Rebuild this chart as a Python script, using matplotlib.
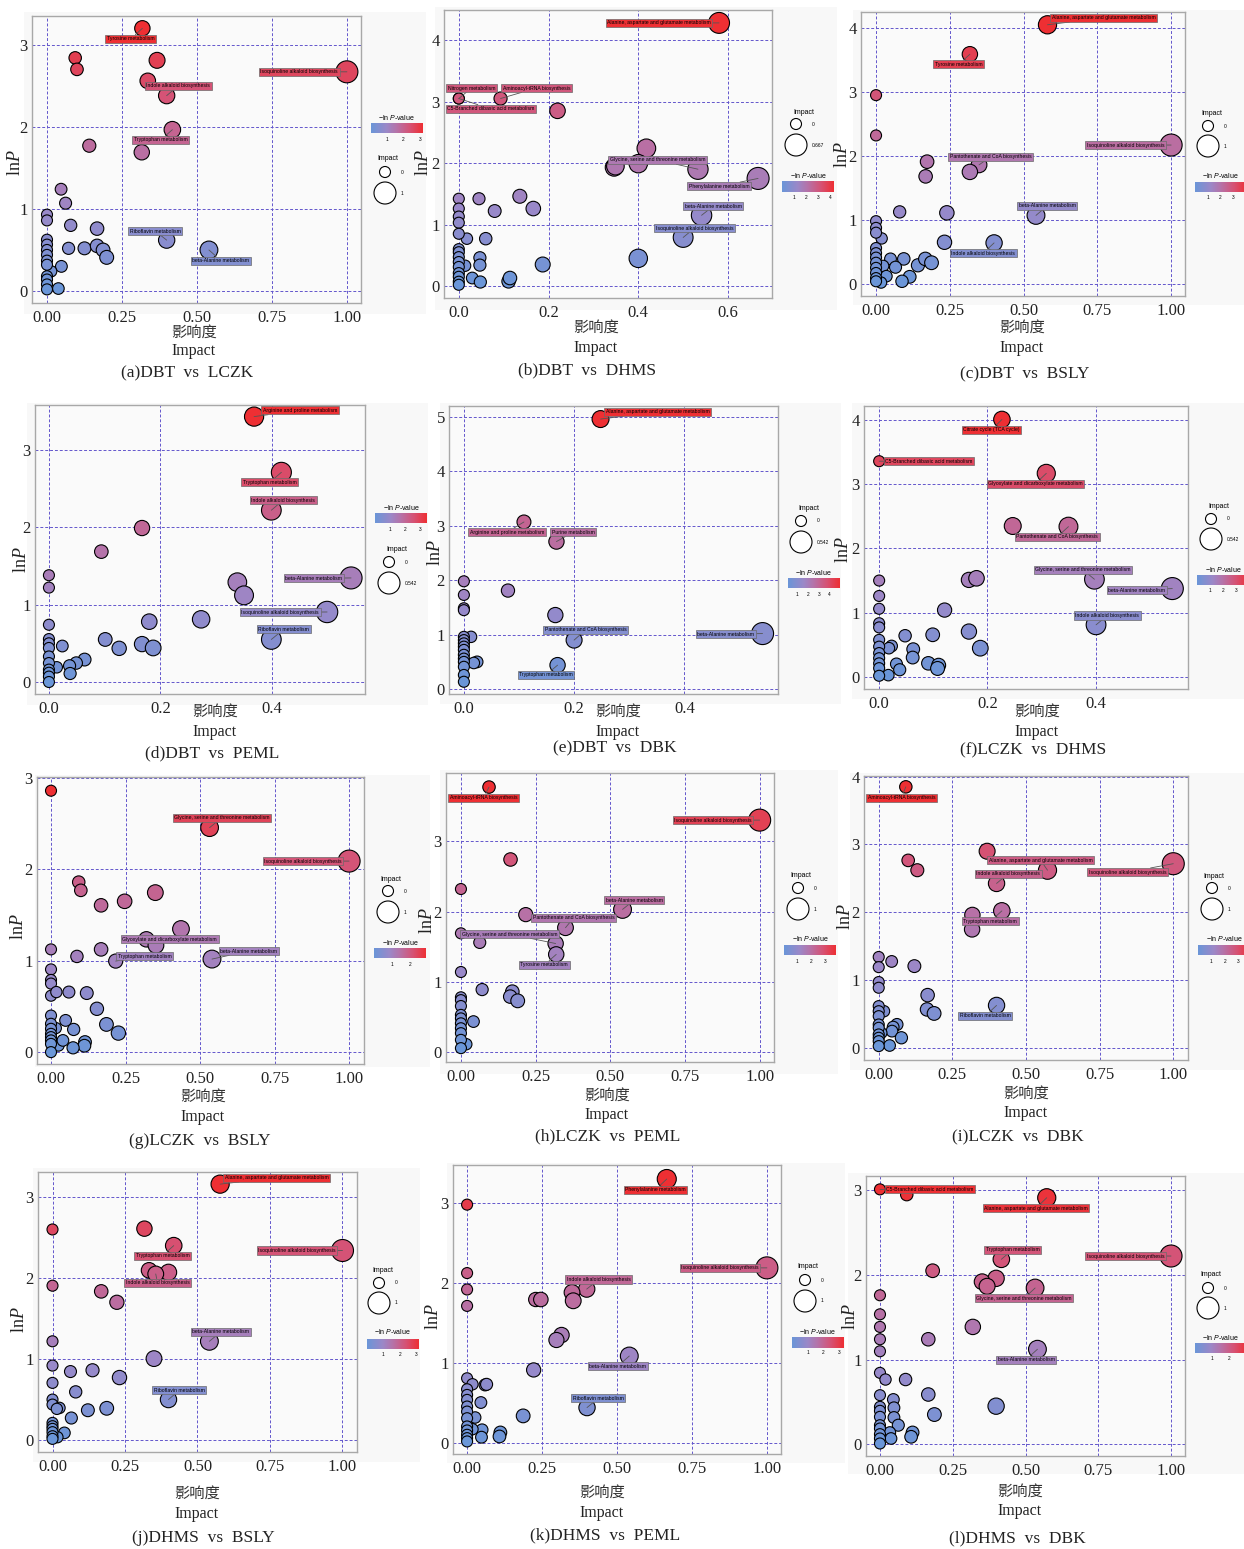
import matplotlib
matplotlib.use("Agg")
import matplotlib.pyplot as plt
import numpy as np
from matplotlib.colors import LinearSegmentedColormap, Normalize
from matplotlib.patches import Rectangle

# serif roman/italic for the axis title, sans italic (through \mathbf) for the legend title
plt.rcParams["mathtext.fontset"] = "custom"
plt.rcParams["mathtext.rm"] = "Liberation Serif"
plt.rcParams["mathtext.it"] = "Liberation Serif:italic"
plt.rcParams["mathtext.bf"] = "Liberation Sans:italic"
plt.rcParams["mathtext.sf"] = "Liberation Sans"

W, H = 1244, 1549

# ---------------- data (impact = x, lnP = y) ----------------
IMPACT_A = [0.318, 0.094, 0.100, 0.367, 0.336, 0.399, 1.000, 0.418, 0.316, 0.141,
            0.047, 0.062, 0.0, 0.0, 0.079, 0.167, 0.072, 0.125, 0.167, 0.187,
            0.199, 0.399, 0.540, 0.048, 0.014, 0.038,
            0.0, 0.0, 0.0, 0.0, 0.0, 0.0, 0.0, 0.0, 0.0, 0.0]
LNP_A = [3.20, 2.84, 2.70, 2.81, 2.56, 2.38, 2.67, 1.965, 1.69, 1.77,
         1.24, 1.07, 0.93, 0.86, 0.80, 0.76, 0.52, 0.52, 0.55, 0.50,
         0.41, 0.62, 0.50, 0.30, 0.24, 0.03,
         0.625, 0.565, 0.50, 0.44, 0.37, 0.32, 0.18, 0.14, 0.08, 0.02]
NAMES_A = {0: "Tyrosine metabolism", 5: "Indole alkaloid biosynthesis",
           6: "Isoquinoline alkaloid biosynthesis", 7: "Tryptophan metabolism",
           21: "Riboflavin metabolism", 22: "beta-Alanine metabolism"}

IMPACT_B = [0.580, 0.0, 0.093, 0.220, 0.418, 0.346, 0.349, 0.400, 0.533, 0.667,
            0.541, 0.500, 0.400, 0.136, 0.045, 0.166, 0.080, 0.060, 0.018, 0.047,
            0.047, 0.187, 0.030, 0.048, 0.111, 0.114, 0.014, 0.0,
            0.0, 0.0, 0.0, 0.0, 0.0, 0.0, 0.0, 0.0, 0.0, 0.0, 0.0, 0.0, 0.0, 0.0]
LNP_B = [4.28, 3.05, 3.05, 2.85, 2.24, 1.93, 1.95, 1.99, 1.90, 1.75,
         1.15, 0.79, 0.45, 1.46, 1.42, 1.26, 1.22, 0.77, 0.77, 0.46,
         0.34, 0.35, 0.13, 0.065, 0.076, 0.13, 0.33, 3.05,
         1.42, 1.26, 1.13, 1.03, 0.85, 0.60, 0.55, 0.47, 0.39, 0.31, 0.21, 0.15, 0.07, 0.02]
NAMES_B = {0: "Alanine, aspartate and glutamate metabolism", 1: "Nitrogen metabolism",
           27: "C5-Branched dibasic acid metabolism", 2: "Aminoacyl-tRNA biosynthesis",
           8: "Glycine, serine and threonine metabolism", 9: "Phenylalanine metabolism",
           10: "beta-Alanine metabolism", 11: "Isoquinoline alkaloid biosynthesis"}

IMPACT_C = [0.581, 0.318, 0.0, 0.0, 1.000, 0.173, 0.168, 0.349, 0.318, 0.080,
            0.240, 0.542, 0.232, 0.400, 0.019, 0.049, 0.094, 0.066, 0.142, 0.167,
            0.188, 0.114, 0.088, 0.024, 0.035, 0.017,
            0.0, 0.0, 0.0, 0.0, 0.0, 0.0, 0.0, 0.0, 0.0, 0.0, 0.0]
LNP_C = [4.05, 3.59, 2.95, 2.32, 2.17, 1.91, 1.68, 1.86, 1.75, 1.125,
         1.11, 1.07, 0.65, 0.64, 0.71, 0.39, 0.39, 0.26, 0.29, 0.39,
         0.33, 0.11, 0.04, 0.28, 0.12, 0.02,
         0.98, 0.875, 0.80, 0.56, 0.48, 0.41, 0.33, 0.25, 0.17, 0.09, 0.04]
NAMES_C = {0: "Alanine, aspartate and glutamate metabolism", 1: "Tyrosine metabolism",
           4: "Isoquinoline alkaloid biosynthesis", 7: "Pantothenate and CoA biosynthesis",
           11: "beta-Alanine metabolism", 13: "Indole alkaloid biosynthesis"}

IMPACT_D = [0.368, 0.417, 0.399, 0.167, 0.094, 0.0, 0.0, 0.338, 0.350, 0.542,
            0.499, 0.399, 0.273, 0.180, 0.101, 0.126, 0.167, 0.187, 0.024, 0.064,
            0.049, 0.037, 0.038, 0.014,
            0.0, 0.0, 0.0, 0.0, 0.0, 0.0, 0.0, 0.0, 0.0, 0.0]
LNP_D = [3.43, 2.71, 2.22, 1.99, 1.685, 1.38, 1.22, 1.29, 1.12, 1.345,
         0.905, 0.55, 0.81, 0.78, 0.55, 0.435, 0.49, 0.44, 0.465, 0.29,
         0.245, 0.21, 0.11, 0.19,
         0.74, 0.555, 0.50, 0.44, 0.33, 0.245, 0.16, 0.12, 0.07, 0.0]
NAMES_D = {0: "Arginine and proline metabolism", 1: "Tryptophan metabolism",
           2: "Indole alkaloid biosynthesis", 9: "beta-Alanine metabolism",
           10: "Isoquinoline alkaloid biosynthesis", 11: "Riboflavin metabolism"}

IMPACT_E = [0.248, 0.109, 0.168, 0.080, 0.166, 0.200, 0.542, 0.170, 0.013, 0.024, 0.018,
            0.0, 0.0, 0.0, 0.0, 0.0, 0.0, 0.0, 0.0, 0.0, 0.0, 0.0, 0.0, 0.0, 0.0, 0.0]
LNP_E = [4.96, 3.07, 2.71, 1.81, 1.36, 0.90, 1.02, 0.44, 0.96, 0.50, 0.48,
         1.98, 1.73, 1.485, 1.45, 0.96, 0.90, 0.84, 0.78, 0.72, 0.63, 0.56, 0.50, 0.41, 0.26, 0.135]
NAMES_E = {0: "Alanine, aspartate and glutamate metabolism", 1: "Arginine and proline metabolism",
           2: "Purine metabolism", 5: "Pantothenate and CoA biosynthesis",
           6: "beta-Alanine metabolism", 7: "Tryptophan metabolism"}

IMPACT_F = [0.227, 0.0, 0.309, 0.247, 0.350, 0.398, 0.542, 0.401, 0.166, 0.180,
            0.121, 0.166, 0.099, 0.187, 0.048, 0.063, 0.062, 0.023, 0.018, 0.032,
            0.038, 0.091, 0.110, 0.108, 0.017,
            0.0, 0.0, 0.0, 0.0, 0.0, 0.0, 0.0, 0.0, 0.0, 0.0, 0.0, 0.0]
LNP_F = [4.01, 3.36, 3.17, 2.35, 2.34, 1.52, 1.375, 0.81, 1.51, 1.535,
         1.04, 0.705, 0.655, 0.446, 0.64, 0.43, 0.30, 0.48, 0.446, 0.20,
         0.11, 0.21, 0.18, 0.13, 0.026,
         1.50, 1.26, 1.06, 0.835, 0.77, 0.576, 0.47, 0.37, 0.29, 0.21, 0.135, 0.016]
NAMES_F = {0: "Citrate cycle (TCA cycle)", 1: "C5-Branched dibasic acid metabolism",
           2: "Glyoxylate and dicarboxylate metabolism", 4: "Pantothenate and CoA biosynthesis",
           5: "Glycine, serine and threonine metabolism", 6: "beta-Alanine metabolism",
           7: "Indole alkaloid biosynthesis"}

IMPACT_G = [0.0, 0.532, 1.000, 0.093, 0.100, 0.168, 0.247, 0.350, 0.436, 0.320,
            0.352, 0.168, 0.087, 0.217, 0.540, 0.0, 0.0, 0.0, 0.0, 0.0,
            0.018, 0.060, 0.120, 0.154, 0.186, 0.226, 0.049, 0.076, 0.114, 0.112,
            0.074, 0.025, 0.040, 0.016,
            0.0, 0.0, 0.0, 0.0, 0.0, 0.0, 0.0, 0.0]
LNP_G = [2.86, 2.456, 2.09, 1.86, 1.77, 1.606, 1.65, 1.745, 1.347, 1.234,
         1.168, 1.124, 1.047, 0.996, 1.018, 1.124, 0.905, 0.79, 0.75, 0.617,
         0.657, 0.657, 0.646, 0.474, 0.303, 0.208, 0.347, 0.248, 0.11, 0.07,
         0.047, 0.073, 0.128, 0.263,
         0.40, 0.31, 0.255, 0.20, 0.164, 0.128, 0.09, 0.0]
NAMES_G = {1: "Glycine, serine and threonine metabolism", 2: "Isoquinoline alkaloid biosynthesis",
           9: "Glyoxylate and dicarboxylate metabolism", 13: "Tryptophan metabolism",
           14: "beta-Alanine metabolism"}

IMPACT_H = [0.094, 1.000, 0.166, 0.0, 0.541, 0.217, 0.350, 0.0, 0.063, 0.317,
            0.319, 0.0, 0.071, 0.172, 0.165, 0.190, 0.042, 0.018,
            0.0, 0.0, 0.0, 0.0, 0.0, 0.0, 0.0, 0.0, 0.0, 0.0]
LNP_H = [3.77, 3.30, 2.74, 2.32, 2.03, 1.956, 1.77, 1.69, 1.56, 1.545,
         1.39, 1.14, 0.89, 0.86, 0.79, 0.73, 0.435, 0.113,
         0.78, 0.74, 0.656, 0.53, 0.48, 0.41, 0.34, 0.27, 0.175, 0.057]
NAMES_H = {0: "Aminoacyl-tRNA biosynthesis", 1: "Isoquinoline alkaloid biosynthesis",
           4: "beta-Alanine metabolism", 6: "Pantothenate and CoA biosynthesis",
           9: "Glycine, serine and threonine metabolism", 10: "Tyrosine metabolism"}

IMPACT_I = [0.092, 0.368, 0.100, 0.131, 0.573, 0.400, 1.000, 0.318, 0.418, 0.317,
            0.0, 0.0, 0.044, 0.121, 0.166, 0.164, 0.188, 0.400, 0.0, 0.0,
            0.018, 0.062, 0.049, 0.045, 0.077, 0.037, 0.009,
            0.0, 0.0, 0.0, 0.0, 0.0, 0.0, 0.0, 0.0, 0.0]
LNP_I = [3.85, 2.90, 2.765, 2.62, 2.62, 2.425, 2.716, 1.96, 2.02, 1.747,
         1.34, 1.19, 1.274, 1.205, 0.777, 0.566, 0.507, 0.625, 0.97, 0.886,
         0.54, 0.344, 0.305, 0.246, 0.148, 0.034, 0.22,
         0.615, 0.54, 0.467, 0.344, 0.295, 0.197, 0.148, 0.098, 0.025]
NAMES_I = {0: "Aminoacyl-tRNA biosynthesis", 4: "Alanine, aspartate and glutamate metabolism",
           5: "Indole alkaloid biosynthesis", 6: "Isoquinoline alkaloid biosynthesis",
           8: "Tryptophan metabolism", 17: "Riboflavin metabolism"}

IMPACT_J = [0.578, 0.317, 0.0, 0.418, 1.000, 0.333, 0.400, 0.356, 0.0, 0.168,
            0.222, 0.541, 0.0, 0.350, 0.0, 0.138, 0.062, 0.231, 0.0, 0.080,
            0.400, 0.0, 0.0, 0.024, 0.015, 0.122, 0.187, 0.065, 0.041, 0.017,
            0.0, 0.0, 0.0, 0.0, 0.0, 0.0]
LNP_J = [3.16, 2.61, 2.60, 2.40, 2.34, 2.095, 2.07, 2.05, 1.905, 1.835,
         1.70, 1.218, 1.218, 1.004, 0.918, 0.86, 0.844, 0.77, 0.704, 0.593,
         0.498, 0.498, 0.436, 0.395, 0.383, 0.366, 0.39, 0.27, 0.086, 0.033,
         0.21, 0.169, 0.136, 0.095, 0.045, 0.012]
NAMES_J = {0: "Alanine, aspartate and glutamate metabolism", 3: "Tryptophan metabolism",
           4: "Isoquinoline alkaloid biosynthesis", 7: "Indole alkaloid biosynthesis",
           11: "beta-Alanine metabolism", 20: "Riboflavin metabolism"}

IMPACT_K = [0.666, 0.0, 1.000, 0.0, 0.0, 0.0, 0.399, 0.350, 0.354, 0.229,
            0.246, 0.315, 0.298, 0.541, 0.222, 0.400, 0.0, 0.018, 0.060, 0.065,
            0.046, 0.187, 0.027, 0.050, 0.048, 0.111, 0.108, 0.018,
            0.0, 0.0, 0.0, 0.0, 0.0, 0.0, 0.0, 0.0, 0.0, 0.0, 0.0]
LNP_K = [3.295, 2.975, 2.185, 2.12, 1.915, 1.71, 1.92, 1.878, 1.774, 1.79,
         1.79, 1.346, 1.284, 1.084, 0.91, 0.44, 0.806, 0.731, 0.723, 0.73,
         0.503, 0.336, 0.316, 0.162, 0.07, 0.129, 0.079, 0.17,
         0.669, 0.598, 0.536, 0.453, 0.39, 0.307, 0.204, 0.154, 0.10, 0.058, 0.017]
NAMES_K = {0: "Phenylalanine metabolism", 2: "Isoquinoline alkaloid biosynthesis",
           6: "Indole alkaloid biosynthesis", 13: "beta-Alanine metabolism",
           15: "Riboflavin metabolism"}

IMPACT_L = [0.0, 0.092, 0.573, 0.417, 1.000, 0.181, 0.399, 0.351, 0.368, 0.533,
            0.0, 0.0, 0.0, 0.0, 0.0, 0.319, 0.166, 0.541, 0.0, 0.019,
            0.088, 0.166, 0.399, 0.187, 0.046, 0.048, 0.048, 0.063, 0.112, 0.107,
            0.034, 0.038,
            0.0, 0.0, 0.0, 0.0, 0.0, 0.0, 0.0, 0.0, 0.0]
LNP_L = [3.012, 2.95, 2.913, 2.185, 2.224, 2.05, 1.96, 1.92, 1.866, 1.846,
         1.76, 1.535, 1.386, 1.24, 1.098, 1.386, 1.24, 1.122, 0.843, 0.764,
         0.764, 0.587, 0.449, 0.35, 0.528, 0.43, 0.315, 0.224, 0.138, 0.087,
         0.138, 0.067,
         0.579, 0.441, 0.394, 0.323, 0.224, 0.185, 0.118, 0.067, 0.008]
NAMES_L = {0: "C5-Branched dibasic acid metabolism", 2: "Alanine, aspartate and glutamate metabolism",
           3: "Tryptophan metabolism", 4: "Isoquinoline alkaloid biosynthesis",
           9: "Glycine, serine and threonine metabolism", 17: "beta-Alanine metabolism"}

CAPTIONS = ["(a)DBT  vs  LCZK", "(b)DBT  vs  DHMS", "(c)DBT  vs  BSLY",
            "(d)DBT  vs  PEML", "(e)DBT  vs  DBK", "(f)LCZK  vs  DHMS",
            "(g)LCZK  vs  BSLY", "(h)LCZK  vs  PEML", "(i)LCZK  vs  DBK",
            "(j)DHMS  vs  BSLY", "(k)DHMS  vs  PEML", "(l)DHMS  vs  DBK"]
SIZE_MAX_LABELS = ["1", "0.667", "1", "0.542", "0.542", "0.542", "1", "1", "1", "1", "1", "1"]
COLOR_TICKS = [[1, 2, 3], [1, 2, 3, 4], [1, 2, 3], [1, 2, 3], [1, 2, 3, 4], [1, 2, 3],
               [1, 2], [1, 2, 3], [1, 2, 3], [1, 2, 3], [1, 2, 3], [1, 2]]

# ---------------- layout (pixel positions in the figure) ----------------
T100 = (["0.00", "0.25", "0.50", "0.75", "1.00"], [0, 0.25, 0.5, 0.75, 1.0])
T04 = (["0.0", "0.2", "0.4"], [0, 0.2, 0.4])
T06 = (["0.0", "0.2", "0.4", "0.6"], [0, 0.2, 0.4, 0.6])

LAYOUT = [
    dict(bg=(24, 12, 426, 314), box=(32, 16, 361, 303), xlim=(-0.05, 1.047), ylim=(-0.146, 3.35),
         xt=T100, yt=[0, 1, 2, 3], ylab=(15, 163), cn=(194, 332), imp=(194, 351), cap=(187, 373),
         size=(388, 158, 385, 172, 193), color=(396, 117, 371, 123, 133, 139),
         lab={0: (0.279, 3.07), 5: (0.438, 2.50), 6: (0.841, 2.67), 7: (0.379, 1.84),
              21: (0.361, 0.73), 22: (0.58, 0.37)}),
    dict(bg=(435, 7, 837, 310), box=(444, 10, 772, 298), xlim=(-0.033, 0.698), ylim=(-0.195, 4.49),
         xt=T06, yt=[0, 1, 2, 3, 4], ylab=(423, 163), cn=(596, 327), imp=(596, 348), cap=(587, 370),
         size=(804, 112, 796, 124, 145), color=(808, 175, 782, 181, 192, 197),
         lab={0: (0.446, 4.28), 1: (0.028, 3.22), 27: (0.072, 2.88), 2: (0.173, 3.22),
              8: (0.443, 2.05), 9: (0.58, 1.62), 10: (0.567, 1.30), 11: (0.525, 0.94)}),
    dict(bg=(853, 10, 1244, 305), box=(861, 12, 1185, 296), xlim=(-0.051, 1.047), ylim=(-0.19, 4.25),
         xt=T100, yt=[0, 1, 2, 3, 4], ylab=(842, 155), cn=(1022, 327), imp=(1022, 348), cap=(1025, 374),
         size=(1212, 113, 1208, 126, 146), color=(1220, 175, 1195, 182, 192, 197),
         lab={0: (0.772, 4.16), 1: (0.280, 3.43), 4: (0.845, 2.17), 7: (0.389, 1.99),
              11: (0.580, 1.22), 13: (0.363, 0.48)}),
    dict(bg=(27, 403, 428, 705), box=(35, 405, 365, 694), xlim=(-0.025, 0.567), ylim=(-0.155, 3.58),
         xt=T04, yt=[0, 1, 2, 3], ylab=(21, 560), cn=(215, 711), imp=(215, 732), cap=(212, 753),
         size=(397, 549, 389, 562, 583), color=(401, 507, 375, 513, 523, 529),
         lab={0: (0.45, 3.51), 1: (0.396, 2.58), 2: (0.420, 2.35), 9: (0.475, 1.34),
              10: (0.415, 0.90), 11: (0.421, 0.68)}),
    dict(bg=(440, 403, 841, 704), box=(449, 406, 778, 694), xlim=(-0.027, 0.57), ylim=(-0.09, 5.2),
         xt=T04, yt=[0, 1, 2, 3, 4, 5], ylab=(435, 553), cn=(618, 711), imp=(618, 732), cap=(615, 748),
         size=(809, 508, 801, 521, 542), color=(813, 572, 788, 578, 588, 594),
         lab={0: (0.352, 5.09), 1: (0.078, 2.88), 2: (0.198, 2.88), 5: (0.221, 1.09),
              6: (0.475, 1.01), 7: (0.149, 0.26)}),
    dict(bg=(852, 403, 1244, 699), box=(864, 406, 1188, 689), xlim=(-0.028, 0.571), ylim=(-0.19, 4.22),
         xt=T04, yt=[0, 1, 2, 3, 4], ylab=(843, 550), cn=(1037, 711), imp=(1037, 732), cap=(1033, 750),
         size=(1219, 506, 1211, 519, 539), color=(1223, 569, 1197, 575, 585, 590),
         lab={0: (0.208, 3.85), 1: (0.0925, 3.36), 2: (0.289, 3.01), 4: (0.329, 2.18),
              5: (0.377, 1.665), 6: (0.476, 1.35), 7: (0.422, 0.955)}),
    dict(bg=(35, 775, 430, 1067), box=(37, 777, 364, 1064), xlim=(-0.047, 1.05), ylim=(-0.13, 3.01),
         xt=T100, yt=[0, 1, 2, 3], ylab=(18, 927), cn=(203, 1096), imp=(203, 1117), cap=(200, 1141),
         size=(391, 879, 388, 891, 912), color=(400, 942, 374, 948, 958, 964),
         lab={1: (0.573, 2.566), 2: (0.845, 2.09), 9: (0.398, 1.234), 13: (0.315, 1.05),
              14: (0.664, 1.106)}),
    dict(bg=(440, 770, 838, 1074), box=(446, 773, 774, 1062), xlim=(-0.05, 1.048), ylim=(-0.14, 3.97),
         xt=T100, yt=[0, 1, 2, 3], ylab=(427, 921), cn=(607, 1095), imp=(607, 1115), cap=(608, 1136),
         size=(801, 875, 798, 888, 909), color=(810, 938, 784, 945, 955, 961),
         lab={0: (0.076, 3.62), 1: (0.844, 3.30), 4: (0.580, 2.163), 6: (0.377, 1.91),
              9: (0.163, 1.68), 10: (0.279, 1.24)}),
    dict(bg=(850, 773, 1244, 1070), box=(864, 776, 1188, 1060), xlim=(-0.05, 1.05), ylim=(-0.18, 4.01),
         xt=T100, yt=[0, 1, 2, 3, 4], ylab=(845, 917), cn=(1026, 1093), imp=(1026, 1113), cap=(1018, 1137),
         size=(1214, 876, 1212, 888, 909), color=(1224, 938, 1198, 945, 955, 961),
         lab={0: (0.077, 3.69), 4: (0.55, 2.765), 5: (0.44, 2.57), 6: (0.845, 2.59),
              8: (0.379, 1.865), 17: (0.362, 0.472)}),
    dict(bg=(33, 1168, 420, 1462), box=(38, 1172, 357, 1452), xlim=(-0.05, 1.05), ylim=(-0.15, 3.31),
         xt=T100, yt=[0, 1, 2, 3], ylab=(19, 1320), cn=(197, 1493), imp=(197, 1514), cap=(203, 1538),
         size=(383, 1271, 379, 1283, 1303), color=(392, 1332, 367, 1339, 1349, 1354),
         lab={0: (0.773, 3.24), 3: (0.379, 2.276), 4: (0.843, 2.34), 7: (0.362, 1.94),
              11: (0.580, 1.333), 20: (0.437, 0.613)}),
    dict(bg=(447, 1163, 845, 1463), box=(453, 1165, 781, 1454), xlim=(-0.047, 1.047), ylim=(-0.14, 3.47),
         xt=T100, yt=[0, 1, 2, 3], ylab=(433, 1317), cn=(602, 1492), imp=(602, 1513), cap=(605, 1535),
         size=(808, 1267, 805, 1280, 1301), color=(817, 1331, 792, 1337, 1348, 1353),
         lab={0: (0.628, 3.16), 2: (0.844, 2.185), 6: (0.439, 2.04), 13: (0.502, 0.956),
              15: (0.438, 0.557)}),
    dict(bg=(848, 1173, 1244, 1474), box=(866, 1176, 1185, 1456), xlim=(-0.048, 1.048), ylim=(-0.14, 3.17),
         xt=T100, yt=[0, 1, 2, 3], ylab=(850, 1317), cn=(1020, 1491), imp=(1020, 1511), cap=(1017, 1538),
         size=(1211, 1275, 1208, 1288, 1308), color=(1220, 1337, 1195, 1343, 1353, 1358),
         lab={0: (0.172, 3.012), 2: (0.536, 2.79), 3: (0.456, 2.30), 4: (0.843, 2.224),
              9: (0.495, 1.724), 17: (0.502, 1.0)}),
]

DATA = [(IMPACT_A, LNP_A, NAMES_A), (IMPACT_B, LNP_B, NAMES_B), (IMPACT_C, LNP_C, NAMES_C),
        (IMPACT_D, LNP_D, NAMES_D), (IMPACT_E, LNP_E, NAMES_E), (IMPACT_F, LNP_F, NAMES_F),
        (IMPACT_G, LNP_G, NAMES_G), (IMPACT_H, LNP_H, NAMES_H), (IMPACT_I, LNP_I, NAMES_I),
        (IMPACT_J, LNP_J, NAMES_J), (IMPACT_K, LNP_K, NAMES_K), (IMPACT_L, LNP_L, NAMES_L)]

CMAP = LinearSegmentedColormap.from_list(
    "lnp", [(0.0, "#6a96d8"), (0.3, "#9b88c8"), (0.5, "#b672a8"), (0.75, "#d65274"), (1.0, "#ee2f33")])
GRID_COLOR = "#6356cc"
SERIF = "Liberation Serif"
SANS = "Liberation Sans"
BAR_W = 52


def area(d_px):
    # marker area in pt^2 for a circle of d_px pixels at dpi 100
    return (d_px * 0.72) ** 2


def size_of(impact, imax):
    return area(np.sqrt(121 + 363 * np.asarray(impact) / imax))


fig = plt.figure(figsize=(W / 100, H / 100), dpi=100)
fig.patch.set_facecolor("white")

bg = fig.add_axes([0, 0, 1, 1], zorder=0)
bg.set_xlim(0, W)
bg.set_ylim(H, 0)
bg.axis("off")

ov = fig.add_axes([0, 0, 1, 1], zorder=10)
ov.patch.set_alpha(0)
ov.axis("off")

for (imp, lnp, names), lay, cap, smax, cticks in zip(DATA, LAYOUT, CAPTIONS, SIZE_MAX_LABELS, COLOR_TICKS):
    x0, y0, x1, y1 = lay["bg"]
    bg.add_patch(Rectangle((x0, y0), x1 - x0, y1 - y0, fc="#f8f8f8", ec="none"))

    l, t, r, b = lay["box"]
    ax = fig.add_axes([l / W, 1 - b / H, (r - l) / W, (b - t) / H], zorder=2)
    ax.set_facecolor("#fafafa")
    x = np.array(imp)
    y = np.array(lnp)
    imax = float(smax)
    norm = Normalize(y.min(), y.max())
    cols = CMAP(norm(y))
    ax.scatter(x, y, s=size_of(x, imax), c=cols, edgecolors="black", linewidths=0.8, zorder=3)

    for idx, name in names.items():
        lx, ly = lay["lab"][idx]
        ax.annotate(name, xy=(x[idx], y[idx]), xytext=(lx, ly), ha="center", va="center",
                    fontsize=3.7, family=SANS, color="black", zorder=6, annotation_clip=False,
                    bbox=dict(boxstyle="square,pad=0.3", fc=cols[idx], ec="#6a6a6a", lw=0.5),
                    arrowprops=dict(arrowstyle="-", color="#555555", lw=0.6, shrinkA=0, shrinkB=0))

    ax.set_xlim(*lay["xlim"])
    ax.set_ylim(*lay["ylim"])
    labels, ticks = lay["xt"]
    ax.set_xticks(ticks)
    ax.set_xticklabels(labels)
    ax.set_yticks(lay["yt"])
    ax.set_yticklabels([str(v) for v in lay["yt"]])
    ax.tick_params(length=0, pad=3, labelsize=12, labelcolor="#222222")
    ax.tick_params(axis="x", pad=5)
    for lbl in ax.get_xticklabels() + ax.get_yticklabels():
        lbl.set_family(SERIF)
    ax.grid(True, color=GRID_COLOR, ls=(0, (3, 2)), lw=0.7)
    ax.set_axisbelow(True)
    for sp in ax.spines.values():
        sp.set_color("#a8a8a8")
        sp.set_linewidth(1.0)

    # axis titles and caption
    ov.text(*lay["ylab"], r"$\mathrm{ln}\mathit{P}$", rotation=90, ha="center", va="center",
            fontsize=13, color="#222222")
    ov.text(*lay["cn"], "影响度", ha="center", va="center", fontsize=11,
            family=["Noto Sans CJK SC", "DejaVu Sans"], color="#333333")
    ov.text(*lay["imp"], "Impact", ha="center", va="center", fontsize=11.5, family=SERIF, color="#222222")
    ov.text(*lay["cap"], cap, ha="center", va="center", fontsize=12.5, family=SERIF, color="#222222")

    # size legend
    stx, sty, cx, sy, by = lay["size"]
    ov.text(stx, sty, "Impact", ha="center", va="center", fontsize=5, family=SANS)
    ov.scatter([cx, cx], [sy, by], s=[area(11), area(22)], facecolors="white",
               edgecolors="black", linewidths=0.8, zorder=5)
    ov.text(cx + 16, sy, "0", ha="left", va="center", fontsize=3.5, family=SANS)
    ov.text(cx + 16, by, smax, ha="left", va="center", fontsize=3.5, family=SANS)

    # colour legend
    ctx, cty, bx0, bt, bb, tky = lay["color"]
    ov.text(ctx, cty, r"−ln $\mathbf{P}$-value", ha="center", va="center", fontsize=5, family=SANS)
    grad = np.linspace(0, 1, 256)[np.newaxis, :]
    ov.imshow(grad, extent=(bx0, bx0 + BAR_W, bb, bt), aspect="auto", cmap=CMAP, zorder=4)
    for v in cticks:
        tx = bx0 + (v - y.min()) / (y.max() - y.min()) * BAR_W
        ov.text(tx, tky, str(v), ha="center", va="center", fontsize=3.5, family=SANS)

ov.set_xlim(0, W)
ov.set_ylim(H, 0)

fig.savefig("out.png", dpi=100)
